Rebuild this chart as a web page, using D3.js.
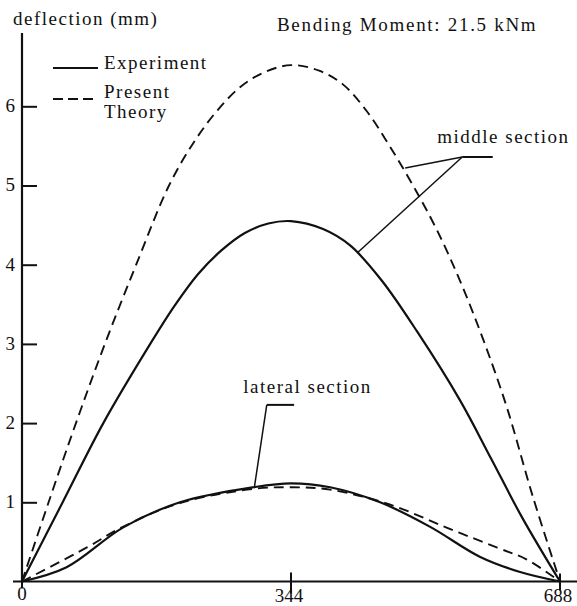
<!DOCTYPE html>
<html>
<head>
<meta charset="utf-8">
<script src="https://cdn.jsdelivr.net/npm/d3@7"></script>
<style>
  html, body { margin: 0; padding: 0; background: #fff; }
  svg { display: block; }
  text { font-family: "Liberation Serif", "Times New Roman", serif; fill: #111; }
</style>
</head>
<body>
<svg id="chart" width="577" height="606"></svg>
<script>
// Span positions along the beam (mm)
const positions = {
  middleExp:     [0, 52, 104, 164, 195, 225, 255, 285, 315, 344, 385, 420, 460, 505, 560, 600, 640, 688],
  middleTheory:  [0, 34, 69, 106, 146, 188, 220, 250, 280, 310, 344, 380, 410, 440, 470, 500, 530, 560, 590, 620, 653, 688],
  lateralExp:    [0, 57, 129, 202, 296, 344, 394, 458, 522, 586, 637, 688],
  lateralTheory: [0, 83, 129, 202, 296, 344, 394, 471, 543, 607, 645, 688]
};

// Deflection values (mm)
const middleExpValues     = [0, 1.0, 2.0, 3.0, 3.48, 3.88, 4.18, 4.40, 4.52, 4.55, 4.45, 4.24, 3.80, 3.16, 2.29, 1.55, 0.80, 0];
const middleTheoryValues  = [0, 1.0, 2.0, 3.0, 4.0, 5.0, 5.55, 5.95, 6.25, 6.43, 6.52, 6.45, 6.28, 5.95, 5.50, 5.00, 4.45, 3.80, 3.05, 2.20, 1.08, 0];
const lateralExpValues    = [0, 0.18, 0.68, 1.00, 1.19, 1.24, 1.19, 1.00, 0.69, 0.31, 0.12, 0];
const lateralTheoryValues = [0, 0.43, 0.69, 0.99, 1.17, 1.19, 1.16, 0.97, 0.68, 0.43, 0.28, 0];

// Axis ticks
const xTickValues = [0, 344, 688];
const xTickLabels = ["0", "344", "688"];
const yTickValues = [1, 2, 3, 4, 5, 6];

// Texts
const yAxisTitle = "deflection (mm)";
const chartTitle = "Bending Moment: 21.5 kNm";
const legendLabels = ["Experiment", ["Present", "Theory"]];
const middleLabel = "middle section";
const lateralLabel = "lateral section";

// Callout leader points (beam position mm, deflection mm)
const middleLeader = { elbow: [563, 5.36], end: [602, 5.36], toTheory: [490, 5.22], toExp: [430, 4.16], text: [531, 5.54] };
const lateralLeader = { elbow: [313, 2.23], end: [348, 2.23], toCurve: [297, 1.18], text: [283, 2.38] };

const svg = d3.select("#chart");
const x = d3.scaleLinear().domain([0, 688]).range([22, 560]);
const y = d3.scaleLinear().domain([0, 6]).range([581.5, 106.3]);

const FONT = 19, LS = 1.5;

// Axes lines
svg.append("line").attr("x1", x(0)).attr("x2", x(0)).attr("y1", 33).attr("y2", y(0) + 1)
  .attr("stroke", "#111").attr("stroke-width", 2.2);
svg.append("line").attr("x1", 13).attr("x2", 577).attr("y1", y(0)).attr("y2", y(0))
  .attr("stroke", "#111").attr("stroke-width", 2.2);

// Y axis: ticks pointing inward, labels outside
const yAxis = d3.axisLeft(y).tickValues(yTickValues).tickFormat(d3.format("d"))
  .tickSizeInner(-15).tickSizeOuter(0).tickPadding(7);
const gy = svg.append("g").attr("transform", `translate(${x(0)},0)`).call(yAxis);
gy.select(".domain").remove();
gy.selectAll(".tick line").attr("stroke", "#111").attr("stroke-width", 2);
gy.selectAll(".tick text").attr("font-size", FONT).attr("font-family", "Liberation Serif")
  .attr("fill", "#111").attr("dy", "0.28em");

// X axis ticks crossing the baseline
const xTickExtent = [[0, 7], [-9, 12], [-8, 9]];
svg.append("g").selectAll("line").data(xTickValues).join("line")
  .attr("x1", d => x(d)).attr("x2", d => x(d))
  .attr("y1", (d, i) => y(0) + xTickExtent[i][0]).attr("y2", (d, i) => y(0) + xTickExtent[i][1])
  .attr("stroke", "#111").attr("stroke-width", 2);
const xLabelShift = [0, -2, -2];
svg.append("g").selectAll("text").data(xTickValues).join("text")
  .attr("x", (d, i) => x(d) + xLabelShift[i]).attr("y", (d, i) => i === 0 ? 600 : 602)
  .attr("text-anchor", "middle").attr("font-size", FONT)
  .text((d, i) => xTickLabels[i]);

// Curves
const line = d3.line().x(d => x(d[0])).y(d => y(d[1])).curve(d3.curveCatmullRom.alpha(0.5));
const series = [
  { xs: positions.middleTheory, ys: middleTheoryValues, dash: "10,6", w: 1.9 },
  { xs: positions.middleExp, ys: middleExpValues, dash: null, w: 2.2 },
  { xs: positions.lateralTheory, ys: lateralTheoryValues, dash: "10,6", w: 1.9 },
  { xs: positions.lateralExp, ys: lateralExpValues, dash: null, w: 2.2 }
];
svg.append("g").selectAll("path").data(series).join("path")
  .attr("d", s => line(s.xs.map((v, i) => [v, s.ys[i]])))
  .attr("fill", "none").attr("stroke", "#111")
  .attr("stroke-width", s => s.w)
  .attr("stroke-dasharray", s => s.dash);

// Titles
svg.append("text").attr("x", 13).attr("y", 25).attr("font-size", FONT)
  .attr("letter-spacing", LS).text(yAxisTitle);
svg.append("text").attr("x", 277).attr("y", 31).attr("font-size", FONT)
  .attr("letter-spacing", 1.7).text(chartTitle);

// Legend
const lg = svg.append("g");
lg.append("line").attr("x1", 53).attr("x2", 98).attr("y1", 68).attr("y2", 68)
  .attr("stroke", "#111").attr("stroke-width", 2);
lg.append("text").attr("x", 104).attr("y", 69).attr("font-size", FONT)
  .attr("letter-spacing", LS).text(legendLabels[0]);
lg.append("line").attr("x1", 53).attr("x2", 98).attr("y1", 99).attr("y2", 99)
  .attr("stroke", "#111").attr("stroke-width", 2).attr("stroke-dasharray", "10,5");
lg.append("text").attr("x", 104).attr("y", 98).attr("font-size", FONT)
  .attr("letter-spacing", LS).text(legendLabels[1][0]);
lg.append("text").attr("x", 104).attr("y", 118).attr("font-size", FONT)
  .attr("letter-spacing", LS).text(legendLabels[1][1]);

// Callouts
const P = p => [x(p[0]), y(p[1])];
const ann = svg.append("g").attr("stroke", "#111").attr("stroke-width", 1.5).attr("fill", "none");
const seg = (a, b) => ann.append("line").attr("x1", P(a)[0]).attr("y1", P(a)[1]).attr("x2", P(b)[0]).attr("y2", P(b)[1]);
seg(middleLeader.elbow, middleLeader.end).attr("stroke-width", 2);
seg(middleLeader.elbow, middleLeader.toTheory);
seg(middleLeader.elbow, middleLeader.toExp);
seg(lateralLeader.elbow, lateralLeader.end).attr("stroke-width", 2);
seg(lateralLeader.elbow, lateralLeader.toCurve);

svg.append("text").attr("x", P(middleLeader.text)[0]).attr("y", P(middleLeader.text)[1])
  .attr("font-size", FONT).attr("letter-spacing", LS).text(middleLabel);
svg.append("text").attr("x", P(lateralLeader.text)[0]).attr("y", P(lateralLeader.text)[1])
  .attr("font-size", FONT).attr("letter-spacing", LS).text(lateralLabel);
</script>
</body>
</html>
